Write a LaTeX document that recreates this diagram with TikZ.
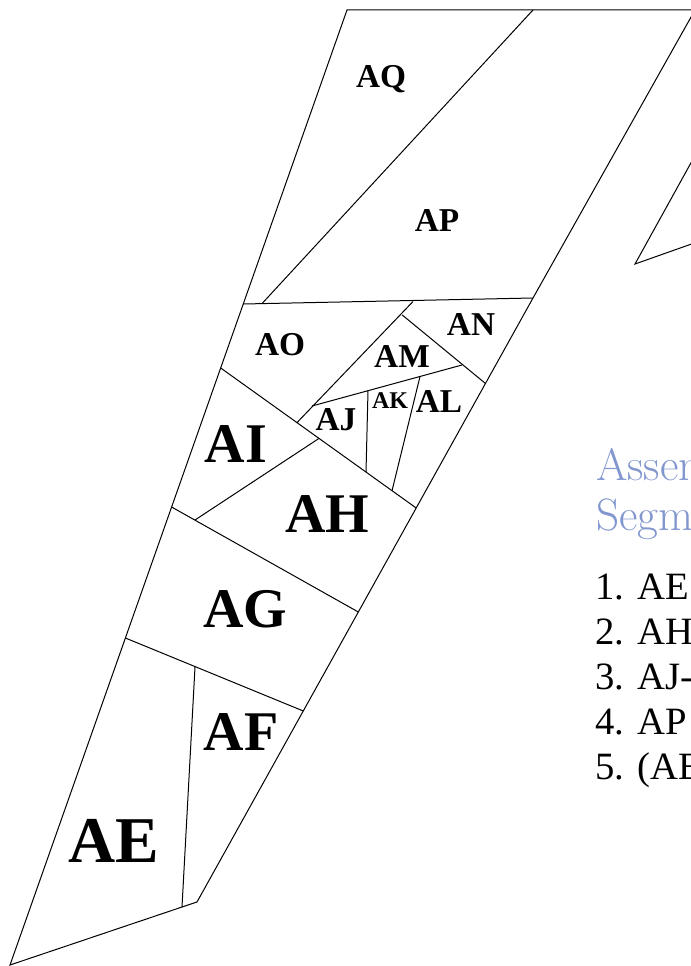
\documentclass[tikz,border=0pt]{standalone}
\usepackage{fontspec}
\newfontfamily\lserif{Liberation Serif}
\definecolor{titleblue}{RGB}{130,151,207}
\begin{document}
\begin{tikzpicture}[x=0.75pt,y=-0.75pt,
  edge/.style={draw=black,line width=0.75pt,line join=miter},
  labsmall/.style={inner sep=0pt,anchor=base,font=\lserif\bfseries\fontsize{18}{20}\selectfont},
  labmid/.style={inner sep=0pt,anchor=base,font=\lserif\bfseries\fontsize{25}{28}\selectfont},
  labbig/.style={inner sep=0pt,anchor=base,font=\lserif\bfseries\fontsize{42}{46}\selectfont},
  labhuge/.style={inner sep=0pt,anchor=base,font=\lserif\bfseries\fontsize{49}{52}\selectfont},
  ttl/.style={inner sep=0pt,anchor=base west,text=titleblue,font=\fontsize{34}{38}\selectfont},
  itm/.style={inner sep=0pt,anchor=base west,font=\lserif\fontsize{29}{31}\selectfont}]
\useasboundingbox (0,0) rectangle (691,966);
\fill[white] (0,0) rectangle (691,966);
\clip (0,0) rectangle (691,966);

% outer outline
\draw[edge] (700,10) -- (347,10) -- (10,965) -- (182,907) -- (197,902) -- (533,298) -- (695,10);
% AQ / AP
\draw[edge] (533,10) -- (262,303.6);
% horizontal under AP
\draw[edge] (243.2,304) -- (533,298);
% AO / AI line to right edge
\draw[edge] (220.7,368) -- (416.2,508);
% AM left edge
\draw[edge] (413,301.5) -- (297,422.6);
% AM / AN
\draw[edge] (402,314.8) -- (485.5,383.5);
% AJ / AM
\draw[edge] (312,406) -- (462,365);
% AJ / AK
\draw[edge] (368,390.7) -- (366,472.1);
% AK / AL
\draw[edge] (420,376.5) -- (392,490.8);
% AI / AH
\draw[edge] (319,438.4) -- (195,520);
% AH / AG
\draw[edge] (171.6,507) -- (358.3,612);
% AG / AF
\draw[edge] (125.4,638) -- (303.3,711);
% AE / AF
\draw[edge] (195,667) -- (182,907);
% partial shape at right
\draw[edge] (700,146.5) -- (635,264) -- (700,241);

% labels
\node[labmid] (aq) at (381,88) {AQ};
\node[labmid] (ap) at (437,232) {AP};
\node[labmid] (ao) at (280,355) {AO};
\node[labmid] (an) at (471,335) {AN};
\node[labmid] (am) at (402,367) {AM};
\node[labmid] (aj) at (336,430) {AJ};
\node[labsmall] (ak) at (390,408) {AK};
\node[labmid] (al) at (439,412) {AL};
\node[labbig] (ai) at (236,462) {AI};
\node[labbig] (ah) at (327,532) {AH};
\node[labbig] (ag) at (245,627) {AG};
\node[labbig] (af) at (241,750) {AF};
\node[labhuge] (ae) at (114,862) {AE};

% title and list
\node[ttl] (t1) at (596,480) {Assembly};
\node[ttl] (t2) at (596,530) {Segments};
\node[itm] (n1) at (595,599) {1.};
\node[itm] (i1) at (637,599) {AE + AF};
\node[itm] (n2) at (595,644) {2.};
\node[itm] (i2) at (637,644) {AH + AI};
\node[itm] (n3) at (595,689) {3.};
\node[itm] (i3) at (637,689) {AJ-AO};
\node[itm] (n4) at (595,734) {4.};
\node[itm] (i4) at (637,734) {AP + AQ};
\node[itm] (n5) at (595,779) {5.};
\node[itm] (i5) at (637,779) {(AE-AI)};
\end{tikzpicture}
\end{document}
